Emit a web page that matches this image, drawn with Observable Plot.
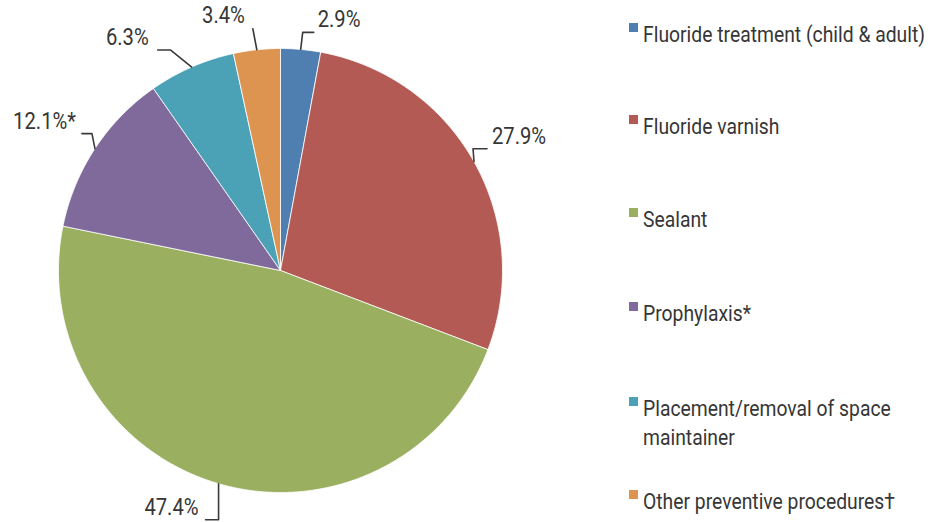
<!DOCTYPE html>
<html><head><meta charset="utf-8">
<script src="https://cdn.jsdelivr.net/npm/d3@7"></script>
<script src="https://cdn.jsdelivr.net/npm/@observablehq/plot@0.6"></script>
<style>
body{margin:0;background:#fff;}
#wrap{position:relative;width:931px;height:522px;overflow:hidden;}
.row{position:absolute;left:629px;font-family:Roboto,"Liberation Sans",sans-serif;font-size:22px;line-height:29px;color:#363636;}
.sw{position:absolute;left:0;top:3px;width:9px;height:9px;}
.tx{position:absolute;left:14px;top:0;transform-origin:0 0;}
</style></head><body><div id="wrap"></div>
<script>
const categories = ["Fluoride treatment (child & adult)", "Fluoride varnish", "Sealant", "Prophylaxis*", "Placement/removal of space maintainer", "Other preventive procedures\u2020"];
const values = [2.9, 27.9, 47.4, 12.1, 6.3, 3.4];
const labels = ["2.9%", "27.9%", "47.4%", "12.1%*", "6.3%", "3.4%"];
const colors = ["#4f7fb0", "#b35a55", "#9aaf5f", "#806a9c", "#4ba2b7", "#dd9450"];

const FONT = 'Roboto,"Liberation Sans",sans-serif';
const R = 222, CX = 280, CY = 270;
// leader layout (pixel offsets from the slice's arc midpoint)
const leaderLayout = [
  {dx: 2, dy: -17, arm: 11, gap: 4},
  {dx: -1, dy: -13, arm: 14, gap: 5},
  {dx: 0, dy: 36, arm: -13, gap: 7},
  {dx: -3, dy: -15, arm: -10, gap: 6},
  {dx: -21, dy: -17, arm: -13, gap: 9},
  {dx: -4, dy: -21, arm: 0, gap: 8, above: true}
];
const legendY = [34.5, 126.5, 220, 313.5, 408.5, 501.5];

const arcs = d3.pie().sort(null).value(d => d)(values);
const slices = [];
arcs.forEach((p, i) => {
  const cat = categories[i];
  slices.push({cat, x: 0, y: 0});
  const n = Math.max(2, Math.ceil((p.endAngle - p.startAngle) / (Math.PI / 360)));
  for (let k = 0; k <= n; k++) {
    const a = p.startAngle + (p.endAngle - p.startAngle) * k / n;
    slices.push({cat, x: Math.sin(a), y: Math.cos(a)});
  }
  slices.push({cat, x: 0, y: 0});
});

const leaders = [], labelPts = [];
arcs.forEach((p, i) => {
  const L = leaderLayout[i];
  const m = (p.startAngle + p.endAngle) / 2;
  const ax = Math.sin(m), ay = Math.cos(m);
  const ex = ax + L.dx / R, ey = ay - L.dy / R;
  const hx = ex + L.arm / R;
  leaders.push({label: labels[i], x: ax, y: ay});
  leaders.push({label: labels[i], x: ex, y: ey});
  if (L.arm !== 0) leaders.push({label: labels[i], x: hx, y: ey});
  if (L.above) {
    labelPts.push({text: labels[i], x: ex - L.gap / R, y: ey + 1 / R, anchor: "end"});
  } else {
    const dir = L.arm >= 0 ? 1 : -1;
    labelPts.push({text: labels[i], x: hx + dir * L.gap / R, y: ey, anchor: dir > 0 ? "start" : "end"});
  }
});

const chart = Plot.plot({
  width: 931, height: 522,
  x: {domain: [-1, 1], range: [CX - R, CX + R], axis: null},
  y: {domain: [-1, 1], range: [CY + R, CY - R], axis: null},
  color: {domain: categories, range: colors},
  style: {fontFamily: FONT, fontSize: "23px", background: "white", color: "#363636"},
  marks: [
    Plot.line(slices, {x: "x", y: "y", z: "cat", fill: "cat", stroke: "white", strokeWidth: 1, strokeOpacity: 0.8}),
    Plot.line(leaders, {x: "x", y: "y", z: "label", stroke: "#3a3a3a", strokeWidth: 1.6}),
    Plot.text(labelPts.filter(d => d.anchor === "start"), {x: "x", y: "y", text: "text", textAnchor: "start", dy: -5, fontSize: 23, fill: "#363636"}),
    Plot.text(labelPts.filter(d => d.anchor === "end"), {x: "x", y: "y", text: "text", textAnchor: "end", dy: -5, fontSize: 23, fill: "#363636"})
  ]
});
const wrap = document.getElementById("wrap");
wrap.appendChild(chart);

// condensed look: measure natural width of the longest legend entry, squeeze horizontally
const probe = document.createElement("span");
probe.style.cssText = "position:absolute;visibility:hidden;white-space:nowrap;font:22px " + FONT;
probe.textContent = categories[0];
wrap.appendChild(probe);
const K = Math.min(1, 282 / probe.getBoundingClientRect().width);
probe.remove();

categories.forEach((c, i) => {
  const row = document.createElement("div");
  row.className = "row";
  row.style.top = (legendY[i] - 15) + "px";
  const sw = document.createElement("div");
  sw.className = "sw";
  sw.style.background = colors[i];
  const tx = document.createElement("div");
  tx.className = "tx";
  tx.style.width = (292 / K) + "px";
  tx.style.transform = `scaleX(${K})`;
  tx.textContent = c;
  row.appendChild(sw);
  row.appendChild(tx);
  wrap.appendChild(row);
});

chart.querySelectorAll("text").forEach(t => {
  const x = +t.getAttribute("x") || 0, y = +t.getAttribute("y") || 0;
  const tr = t.getAttribute("transform") || "";
  t.removeAttribute("x"); t.removeAttribute("y");
  t.setAttribute("transform", `${tr} translate(${x},${y}) scale(${K},1)`);
});
</script></body></html>
